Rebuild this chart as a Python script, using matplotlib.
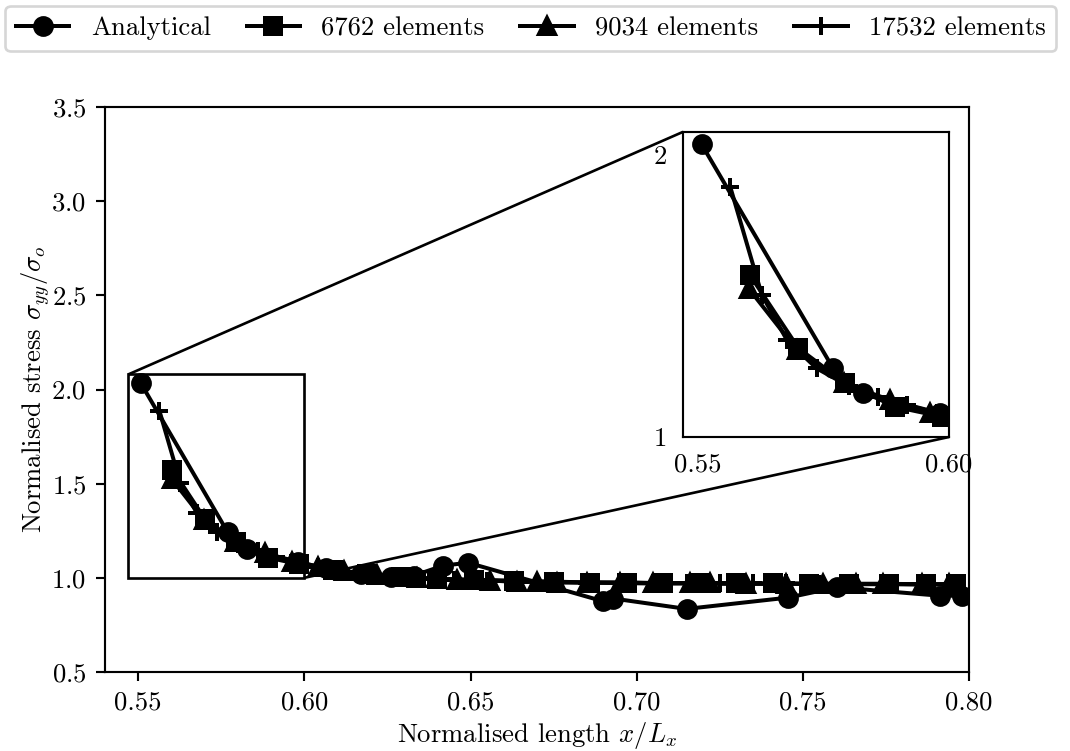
"""Normalised stress along the plate: analytical solution vs three FE meshes,
with a zoomed inset around the stress concentration near x/Lx = 0.55."""
import matplotlib
matplotlib.use("Agg")
import matplotlib.pyplot as plt
from mpl_toolkits.axes_grid1.inset_locator import mark_inset

plt.rcParams["font.family"] = "serif"
plt.rcParams["font.serif"] = ["cmr10", "DejaVu Serif"]
plt.rcParams["mathtext.fontset"] = "cm"
plt.rcParams["axes.formatter.use_mathtext"] = True
plt.rcParams["font.size"] = 10

DPI = 192

# --- data ---
ana_x = [0.5507, 0.5769, 0.5828, 0.5982, 0.6065, 0.6170, 0.6260, 0.6330,
         0.6418, 0.6493, 0.6900, 0.6930, 0.7150, 0.7456, 0.7602, 0.7913,
         0.7980, 0.8060]
ana_y = [2.036, 1.243, 1.155, 1.084, 1.050, 1.020, 1.005, 1.012,
         1.065, 1.080, 0.875, 0.890, 0.835, 0.895, 0.950, 0.905,
         0.905, 0.900]

m6762_x = [0.5603, 0.5700, 0.5793, 0.5892, 0.5985, 0.6085, 0.6190, 0.6290,
           0.6400, 0.6510, 0.6630, 0.6750, 0.6860, 0.6970, 0.7080, 0.7190,
           0.7300, 0.7410, 0.7520, 0.7640, 0.7760, 0.7870, 0.7960]
m6762_y = [1.574, 1.314, 1.190, 1.107, 1.072, 1.040, 1.020, 1.005,
           0.995, 0.990, 0.985, 0.980, 0.975, 0.975, 0.972, 0.972,
           0.970, 0.970, 0.968, 0.968, 0.968, 0.966, 0.966]

m9034_x = [0.5601, 0.5697, 0.5790, 0.5882, 0.5962, 0.6040, 0.6120, 0.6220,
           0.6340, 0.6460, 0.6560, 0.6640, 0.6700, 0.6760, 0.6850, 0.6950,
           0.7050, 0.7160, 0.7220, 0.7330, 0.7450, 0.7560, 0.7660, 0.7740,
           0.7860, 0.7940]
m9034_y = [1.525, 1.308, 1.190, 1.131, 1.084, 1.055, 1.035, 1.015,
           1.000, 0.990, 0.985, 0.980, 0.978, 0.975, 0.975, 0.972,
           0.970, 0.970, 0.970, 0.968, 0.968, 0.968, 0.966, 0.966,
           0.965, 0.965]

m17532_x = [0.5564, 0.5627, 0.5677, 0.5736, 0.5800, 0.5859, 0.5916, 0.5975,
            0.6040, 0.6110, 0.6190, 0.6270, 0.6360, 0.6450, 0.6550, 0.6650,
            0.6750, 0.6850, 0.6950, 0.7050, 0.7150, 0.7250, 0.7350, 0.7450,
            0.7550, 0.7650, 0.7750, 0.7850, 0.7950]
m17532_y = [1.886, 1.503, 1.343, 1.243, 1.180, 1.143, 1.113, 1.085,
            1.060, 1.040, 1.020, 1.005, 0.995, 0.990, 0.985, 0.980,
            0.978, 0.975, 0.975, 0.972, 0.972, 0.970, 0.970, 0.970,
            0.968, 0.968, 0.968, 0.966, 0.966]

SERIES = [
    (ana_x, ana_y, "o", "Analytical"),
    (m6762_x, m6762_y, "s", "6762 elements"),
    (m9034_x, m9034_y, "^", "9034 elements"),
    (m17532_x, m17532_y, "+", "17532 elements"),
]

fig = plt.figure(figsize=(1070 / DPI, 751 / DPI), dpi=DPI)
ax = fig.add_axes([0.0981, 0.1052, 0.8075, 0.7523])

for x, y, mk, lab in SERIES:
    ms = 7 if mk == "+" else 6.3
    ax.plot(x, y, color="k", marker=mk, ms=ms, mew=1.5, lw=1.5, label=lab)

ax.set_xlim(0.54, 0.80)
ax.set_ylim(0.5, 3.5)
ax.set_xticks([0.55, 0.60, 0.65, 0.70, 0.75, 0.80])
ax.set_xticklabels(["0.55", "0.60", "0.65", "0.70", "0.75", "0.80"])
ax.set_xlabel(r"Normalised length $x/L_x$", labelpad=2)
ax.set_ylabel(r"Normalised stress $\sigma_{yy}/\sigma_o$", labelpad=-0.5)

# --- zoomed inset ---
axins = ax.inset_axes([0.669, 0.416, 0.308, 0.540])
for x, y, mk, lab in SERIES:
    ms = 7 if mk == "+" else 6.3
    axins.plot(x, y, color="k", marker=mk, ms=ms, mew=1.5, lw=1.5)
axins.set_xlim(0.547, 0.600)
axins.set_ylim(1.0, 2.08)
axins.set_xticks([0.55, 0.60])
axins.set_xticklabels(["0.55", "0.60"])
axins.set_yticks([1, 2])
axins.set_yticklabels(["1", "2"])
axins.tick_params(length=0, pad=6)
mark_inset(ax, axins, loc1=2, loc2=4, fc="none", ec="k", lw=1.0)

fig.legend(*ax.get_legend_handles_labels(), loc="upper left", ncol=4,
           bbox_to_anchor=(0.005, 0.992), borderaxespad=0,
           handlelength=2.0, columnspacing=1.35)

fig.savefig("out.png", dpi=DPI)
